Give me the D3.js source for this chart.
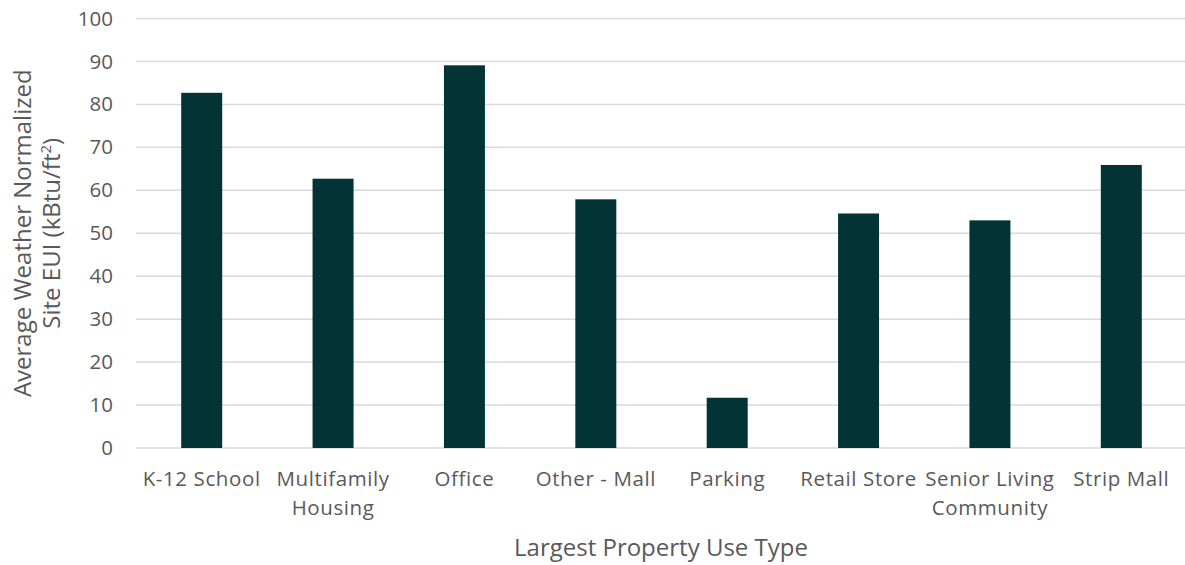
<!DOCTYPE html>
<html>
<head>
<meta charset="utf-8">
<script src="https://cdn.jsdelivr.net/npm/d3@7"></script>
<style>
  html, body { margin: 0; padding: 0; background: #fff; overflow: hidden; }
  svg { display: block; }
  text { font-family: "Open Sans", "Noto Sans", sans-serif; fill: #595959; }
</style>
</head>
<body>
<svg id="chart" width="1185" height="565"></svg>
<script>
// Average weather-normalized site EUI by largest property use type
const categories = ["K-12 School", "Multifamily Housing", "Office", "Other - Mall",
                    "Parking", "Retail Store", "Senior Living Community", "Strip Mall"];
const siteEUI = [82.7, 62.7, 89.1, 57.9, 11.7, 54.6, 53.0, 65.9];
const yTicks = [0, 10, 20, 30, 40, 50, 60, 70, 80, 90, 100];

const W = 1185, H = 565;
const margin = { left: 136, right: -2, top: 18.5, bottom: 117 };
const svg = d3.select("#chart");

const x = d3.scaleBand()
  .domain(categories)
  .range([margin.left, W - margin.right])
  .paddingInner(0.688)
  .paddingOuter(0.344);

const y = d3.scaleLinear()
  .domain([0, 100])
  .range([H - margin.bottom, margin.top]);

// horizontal gridlines
svg.append("g")
  .selectAll("line")
  .data(yTicks)
  .join("line")
  .attr("x1", margin.left)
  .attr("x2", W - margin.right)
  .attr("y1", d => y(d))
  .attr("y2", d => y(d))
  .attr("stroke", "#d9d9d9")
  .attr("stroke-width", 1.5);

// bars
svg.append("g")
  .selectAll("rect")
  .data(categories)
  .join("rect")
  .attr("x", d => x(d))
  .attr("width", x.bandwidth())
  .attr("y", (d, i) => y(siteEUI[i]))
  .attr("height", (d, i) => y(0) - y(siteEUI[i]))
  .attr("fill", "#023436");

// y axis tick labels
const yAxis = svg.append("g")
  .attr("transform", `translate(${margin.left - 23},0)`)
  .call(d3.axisLeft(y).tickValues(yTicks).tickSize(0).tickPadding(0));
yAxis.select(".domain").remove();
yAxis.selectAll("text")
  .attr("font-size", 20.5)
  .attr("fill", "#595959")
  .style("font-family", "'Open Sans', sans-serif");

// x axis category labels, wrapped to the band step
const xAxis = svg.append("g")
  .attr("transform", `translate(0,${y(0)})`)
  .call(d3.axisBottom(x).tickSize(0).tickPadding(0));
xAxis.select(".domain").remove();
xAxis.selectAll("text")
  .attr("font-size", 20.5)
  .attr("fill", "#595959")
  .style("font-family", "'Open Sans', sans-serif")
  .style("letter-spacing", "0.6px")
  .attr("y", 0)
  .attr("dy", null)
  .each(function (d) {
    const t = d3.select(this);
    const words = d.split(" ");
    t.text(null);
    const maxW = x.step();
    let lines = [], line = [];
    const probe = t.append("tspan");
    for (const w of words) {
      line.push(w);
      probe.text(line.join(" "));
      if (probe.node().getComputedTextLength() > maxW && line.length > 1) {
        line.pop();
        lines.push(line.join(" "));
        line = [w];
      }
    }
    lines.push(line.join(" "));
    probe.remove();
    lines.forEach((l, i) => {
      t.append("tspan").attr("x", 0).attr("y", 38 + i * 29).text(l);
    });
  });

// axis titles
svg.append("text")
  .attr("x", 661)
  .attr("y", 556)
  .attr("text-anchor", "middle")
  .attr("font-size", 24)
  .text("Largest Property Use Type");

const yTitle = svg.append("text")
  .attr("transform", `translate(31,${(y(0) + y(100)) / 2}) rotate(-90)`)
  .attr("text-anchor", "middle")
  .attr("font-size", 24);
yTitle.append("tspan").attr("x", 0).attr("y", 0).text("Average Weather Normalized");
const l2 = yTitle.append("tspan").attr("x", 0).attr("y", 29);
l2.append("tspan").text("Site EUI (kBtu/ft");
l2.append("tspan").attr("font-size", 15).attr("dy", -9).text("2");
l2.append("tspan").attr("dy", 9).text(")");
</script>
</body>
</html>
